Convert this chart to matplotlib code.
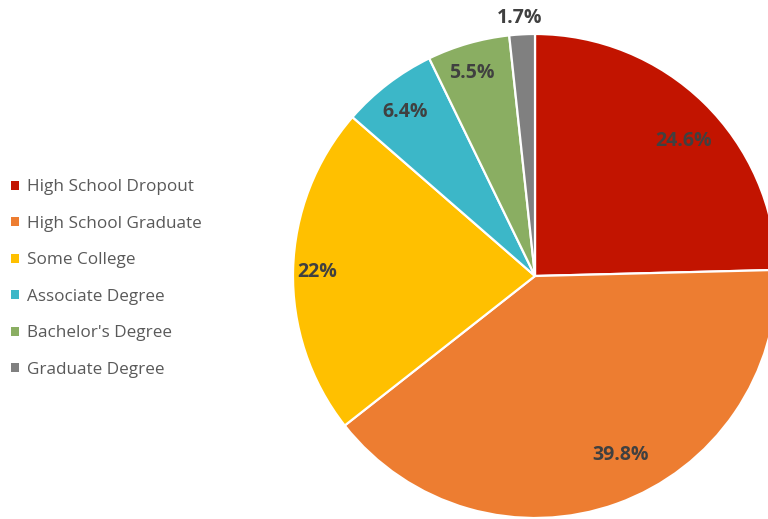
import matplotlib.pyplot as plt
import numpy as np

plt.rcParams['font.family'] = ['Open Sans', 'DejaVu Sans']

categories = ['High School Dropout', 'High School Graduate', 'Some College',
              'Associate Degree', "Bachelor's Degree", 'Graduate Degree']
shares = [24.6, 39.8, 22, 6.4, 5.5, 1.7]
colors = ['#C21400', '#ED7D31', '#FFC000', '#3CB7C8', '#8AAE62', '#808080']
# label placement (Excel best fit): radius fraction and angle nudge in degrees
label_r = [0.83, 0.82, 0.9, 0.865, 0.88, 1.07]
label_da = [-3.3, 5.6, 0.3, 1.0, 1.2, 0.4]

W, H = 768, 519
fig = plt.figure(figsize=(W / 100, H / 100), dpi=100)
ax = fig.add_axes([0, 0, 1, 1])

cx, cy, R = 535, H - 276, 242
wedges, _ = ax.pie(shares, colors=colors, startangle=90, counterclock=False,
                   center=(cx, cy), radius=R,
                   wedgeprops=dict(edgecolor='white', linewidth=1.6))

for w, v, r, da in zip(wedges, shares, label_r, label_da):
    ang = np.deg2rad((w.theta1 + w.theta2) / 2 + da)
    ax.text(cx + r * R * np.cos(ang), cy + r * R * np.sin(ang), f'{v:g}%',
            ha='center', va='center', fontsize=14, fontweight='bold',
            color='#404040')

ax.set_xlim(0, W)
ax.set_ylim(0, H)
ax.set_aspect('equal')
ax.axis('off')

leg = ax.legend(wedges, categories, loc='upper left',
                bbox_to_anchor=(-4 / W, 1 - 164 / H), frameon=False,
                handlelength=0.45, handleheight=0.45, handletextpad=0.45,
                labelspacing=1.2, fontsize=12.3, labelcolor='#595959')
for h in leg.legend_handles:
    h.set_edgecolor('none')

fig.savefig('out.png', dpi=100)
